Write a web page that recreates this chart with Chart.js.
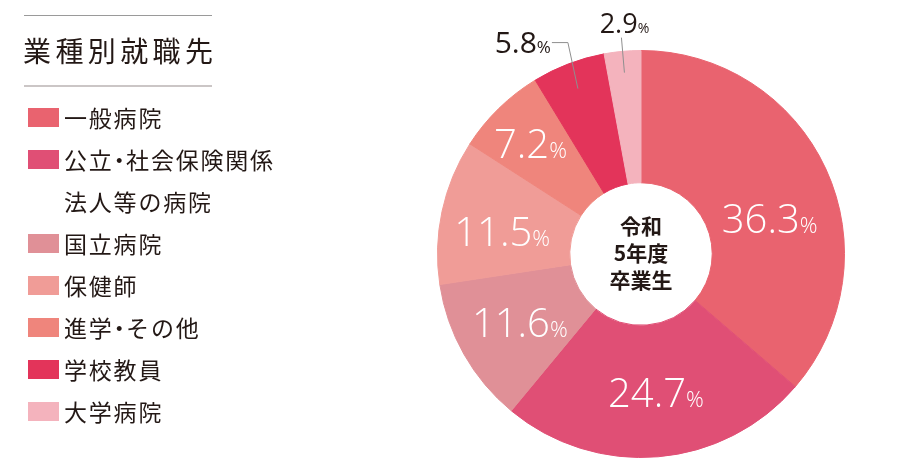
<!DOCTYPE html>
<html>
<head>
<meta charset="utf-8">
<script src="https://cdn.jsdelivr.net/npm/chart.js@4.4.1/dist/chart.umd.min.js"></script>
<style>
html,body{margin:0;padding:0;background:#fff;}
#wrap{position:relative;width:914px;height:464px;overflow:hidden;font-family:"Noto Sans CJK JP","Noto Sans",sans-serif;color:#231815;}
#c{position:absolute;left:0;top:0;}
.rule{position:absolute;left:24px;width:188px;}
#title{position:absolute;left:23px;top:30px;font-size:28px;letter-spacing:4.4px;line-height:40px;white-space:nowrap;font-weight:400;}
#legend{position:absolute;left:28px;top:96px;}
.row{height:42px;display:flex;align-items:center;white-space:nowrap;font-size:23px;letter-spacing:1.8px;}
.sw{width:31px;height:19px;margin-right:5px;flex:none;}
.dot{font-feature-settings:"palt";letter-spacing:1px;}
#center{position:absolute;left:561px;width:160px;top:212px;text-align:center;font-size:21px;line-height:27px;font-weight:700;}
</style>
</head>
<body>
<div id="wrap">
  <canvas id="c" width="914" height="464"></canvas>
  <div class="rule" style="top:15px;height:1px;background:#9a9a9a;"></div>
  <div id="title">業種別就職先</div>
  <div class="rule" style="top:85px;height:2px;background:#cbc6c6;"></div>
  <div id="legend"></div>
  <div id="center">令和<br>5年度<br>卒業生</div>
</div>
<script>
// ---- data ----
const categories = ['一般病院', ['公立・社会保険関係', '法人等の病院'], '国立病院', '保健師', '進学・その他', '学校教員', '大学病院'];
const values = [36.3, 24.7, 11.6, 11.5, 7.2, 5.8, 2.9];
const colors = ['#E9636F', '#E04F75', '#E09097', '#F09C97', '#EF857C', '#E3345A', '#F4B3BD'];
const titleText = '業種別就職先';

// ---- legend (built from the arrays) ----
document.getElementById('title').textContent = titleText;
const legendEl = document.getElementById('legend');
categories.forEach((cat, i) => {
  const lines = Array.isArray(cat) ? cat : [cat];
  lines.forEach((ln, j) => {
    const row = document.createElement('div');
    row.className = 'row';
    const sw = document.createElement('span');
    sw.className = 'sw';
    sw.style.background = j === 0 ? colors[i] : 'transparent';
    const tx = document.createElement('span');
    ln.split(/(・)/).forEach(part => {
      if (part === '・') {
        const d = document.createElement('span');
        d.className = 'dot';
        d.textContent = part;
        tx.appendChild(d);
      } else if (part) {
        tx.appendChild(document.createTextNode(part));
      }
    });
    row.appendChild(sw); row.appendChild(tx);
    legendEl.appendChild(row);
  });
});

// ---- label plugin ----
const labelPlugin = {
  id: 'sliceLabels',
  afterDatasetsDraw(chart, args, opts) {
    const ctx = chart.ctx;
    const meta = chart.getDatasetMeta(0);
    meta.data.forEach((arc, i) => {
      const p = arc.getProps(['x', 'y', 'startAngle', 'endAngle', 'outerRadius'], true);
      const mid = (p.startAngle + p.endAngle) / 2;
      const s = opts.items[i];
      const num = chart.data.datasets[0].data[i].toFixed(1);
      const fam = '"Open Sans", "Liberation Sans", sans-serif';
      ctx.save();
      let bx, by;
      if (s.outside) {
        const ax = p.x + Math.cos(mid) * p.outerRadius * s.lr;
        const ay = p.y + Math.sin(mid) * p.outerRadius * s.lr;
        ctx.strokeStyle = '#8f8f8f';
        ctx.lineWidth = 1;
        ctx.beginPath();
        ctx.moveTo(ax, ay);
        s.path.forEach(pt => ctx.lineTo(ax + pt[0], ay + pt[1]));
        ctx.stroke();
        ctx.fillStyle = '#231815';
        bx = ax + s.tx; by = ay + s.ty;
      } else {
        bx = p.x + Math.cos(mid) * p.outerRadius * opts.r + s.dx;
        by = p.y + Math.sin(mid) * p.outerRadius * opts.r + s.dy + s.size * 0.357;
        ctx.fillStyle = '#ffffff';
      }
      const w = s.weight || opts.weight;
      const fNum = `${w} ${s.size}px ${fam}`;
      const fPct = `${w} ${s.pct}px ${fam}`;
      ctx.font = fNum; const wN = ctx.measureText(num).width;
      ctx.font = fPct; const wP = ctx.measureText('%').width;
      const total = wN + wP;
      let x0;
      if (s.align === 'right') x0 = bx - total;
      else if (s.align === 'left') x0 = bx;
      else x0 = bx - total / 2;
      ctx.textBaseline = 'alphabetic';
      ctx.textAlign = 'left';
      ctx.font = fNum; ctx.fillText(num, x0, by);
      ctx.font = fPct; ctx.fillText('%', x0 + wN, by);
      ctx.restore();
    });
  }
};

new Chart(document.getElementById('c'), {
  type: 'doughnut',
  data: {
    labels: categories,
    datasets: [{
      data: values,
      backgroundColor: colors,
      borderColor: colors,
      borderWidth: 1,
      hoverOffset: 0
    }]
  },
  options: {
    responsive: false,
    animation: false,
    cutout: '35%',
    layout: { padding: { left: 437, right: 69, top: 50, bottom: 6 } },
    plugins: {
      legend: { display: false },
      tooltip: { enabled: false },
      sliceLabels: {
        r: 0.69,
        weight: 300,
        items: [
          { dx: 1, dy: 23, size: 40, pct: 22 },
          { dx: 3, dy: -1, size: 40, pct: 22 },
          { dx: 1, dy: 0, size: 40, pct: 22 },
          { dx: -1.5, dy: 6.6, size: 40, pct: 22 },
          { dx: -12.5, dy: -9.5, size: 40, pct: 22 },
          { outside: true, lr: 0.87, path: [[-10, -46], [-26, -46]], tx: -27, ty: -35.5, align: 'right', size: 30, pct: 17, weight: 400 },
          { outside: true, lr: 0.895, path: [[-3, -35]], tx: 0, ty: -40, align: 'center', size: 27, pct: 14, weight: 400 }
        ]
      }
    }
  },
  plugins: [labelPlugin]
});
</script>
</body>
</html>
